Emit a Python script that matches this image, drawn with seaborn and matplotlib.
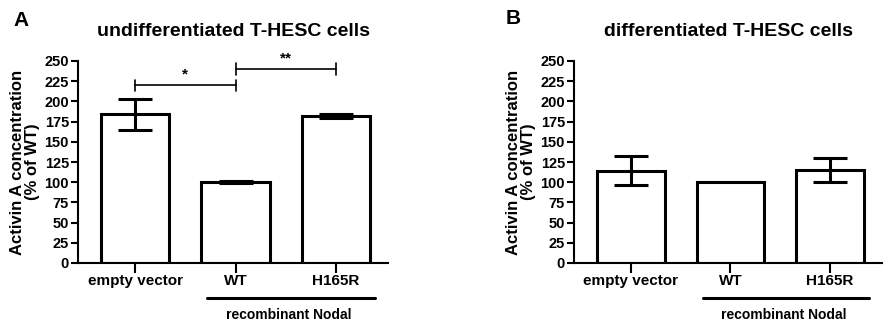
import matplotlib
matplotlib.use("Agg")
import matplotlib.pyplot as plt
import matplotlib.transforms as mtransforms
import seaborn as sns
import numpy as np

sns.set_theme(style="ticks")
plt.rcParams['font.family'] = ['Liberation Sans', 'DejaVu Sans']
plt.rcParams['font.weight'] = 'bold'
plt.rcParams['text.color'] = 'black'
plt.rcParams['axes.labelcolor'] = 'black'
plt.rcParams['xtick.color'] = 'black'
plt.rcParams['ytick.color'] = 'black'

categories = ["empty vector", "WT", "H165R"]
undiff_mean = [184, 100, 182]
undiff_err = [19, 1, 3]
diff_mean = [114, 100, 115]
diff_err = [18, 0, 15]
yticks = [0, 25, 50, 75, 100, 125, 150, 175, 200, 225, 250]
titles = ["undifferentiated T-HESC cells", "differentiated T-HESC cells"]
panel_labels = ["A", "B"]
ylabel = "Activin A concentration\n(% of WT)"
group_label = "recombinant Nodal"
# significance: (from index, to index, height, label)
sig_A = [(0, 1, 220, "*"), (1, 2, 240, "**")]

fig = plt.figure(figsize=(8.92, 3.32), dpi=100)
axA = fig.add_axes([78/892, 1-263/332, (388-78)/892, 202/332])
axB = fig.add_axes([574/892, 1-263/332, (882-574)/892, 202/332])

lw = 2.2
for ax, means, errs, title, pl in [(axA, undiff_mean, undiff_err, titles[0], panel_labels[0]),
                                   (axB, diff_mean, diff_err, titles[1], panel_labels[1])]:
    sns.barplot(x=categories, y=means, ax=ax, color="white", edgecolor="black",
                linewidth=lw, width=0.68, saturation=1, errorbar=None)
    for i, (m, e) in enumerate(zip(means, errs)):
        if e > 0:
            ax.errorbar(i, m, yerr=e, color="black", elinewidth=lw, capsize=12.5,
                        capthick=lw, zorder=5)
    ax.set_ylim(0, 250)
    ax.set_xlim(-0.57, 2.52)
    ax.set_yticks(yticks)
    ax.set_yticklabels([str(t) for t in yticks], fontsize=10.5, fontweight='bold')
    ax.set_xticks(range(len(categories)))
    ax.set_xticklabels(categories, fontsize=11, fontweight='bold')
    ax.tick_params(axis='both', width=1.5, length=5, color='black', pad=1.5)
    ax.tick_params(axis='x', length=7, pad=1)
    sns.despine(ax=ax)
    for s in ['left', 'bottom']:
        ax.spines[s].set_linewidth(1.5)
        ax.spines[s].set_color('black')
    ax.set_ylabel(ylabel, fontsize=12, fontweight='bold', labelpad=3, linespacing=1.0)
    ax.set_title(title, fontsize=14, fontweight='bold', pad=18)
    trans = mtransforms.blended_transform_factory(ax.transData, ax.transAxes)
    ax.plot([0.72, 2.39], [-0.173, -0.173], color='black', lw=2.2, transform=trans, clip_on=False)
    t = ax.text(1.53, -0.258, group_label, transform=trans, ha='center', va='center',
                fontsize=10, fontweight='bold')

fig.text(21/892, 1-20/332, panel_labels[0], fontsize=15, fontweight='bold', ha='center', va='center')
fig.text(513/892, 1-18/332, panel_labels[1], fontsize=15, fontweight='bold', ha='center', va='center')

for (a, b, h, lab) in sig_A:
    axA.plot([a, b], [h, h], color='black', lw=1.2, clip_on=False)
    for xx in (a, b):
        axA.plot([xx, xx], [h - 7, h + 7], color='black', lw=1.2, clip_on=False)
    axA.text((a + b) / 2 - 0.0, h + 13, lab, ha='center', va='center', fontsize=11, fontweight='bold')

fig.savefig("out.png", dpi=100, facecolor="white")
